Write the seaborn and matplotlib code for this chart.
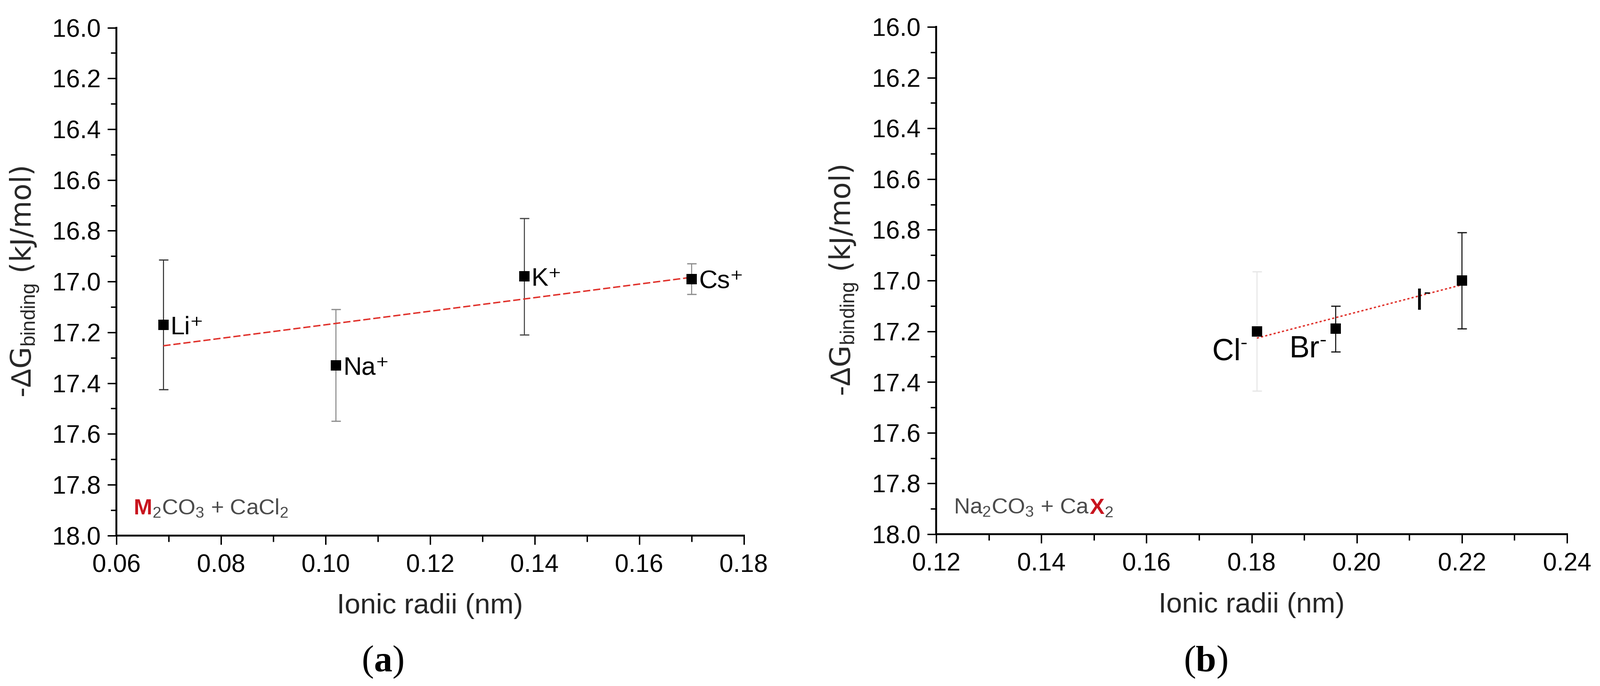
import matplotlib
matplotlib.use('Agg')
import matplotlib.pyplot as plt
import seaborn as sns
from matplotlib.ticker import MultipleLocator, FormatStrFormatter

# (a) M2CO3 + CaCl2, varying cation
cation_radius = [0.069, 0.102, 0.138, 0.170]
cation_dg = [17.17, 17.33, 16.98, 16.99]
cation_err = [0.255, 0.22, 0.23, 0.06]
cation_labels = ['Li⁺', 'Na⁺', 'K⁺', 'Cs⁺']
cation_ecolor = ['#333333', '#8a8a8a', '#444444', '#8a8a8a']

# (b) Na2CO3 + CaX2, varying anion
anion_radius = [0.181, 0.196, 0.220]
anion_dg = [17.20, 17.19, 17.00]
anion_err = [0.235, 0.09, 0.19]
anion_labels = [r'Cl$^{\text{-}}$', r'Br$^{\text{-}}$', r'I$^{\text{-}}$']
anion_ecolor = ['#e6e6e6', '#111111', '#111111']

xlim_a = (0.06, 0.18)
xlim_b = (0.12, 0.24)
ylim = (18.0, 16.0)

sns.set_theme(style='ticks')
plt.rcParams['font.family'] = ['Liberation Sans', 'DejaVu Sans']
plt.rcParams['mathtext.fontset'] = 'custom'
plt.rcParams['mathtext.rm'] = 'Liberation Sans'
plt.rcParams['mathtext.it'] = 'Liberation Sans:italic'
plt.rcParams['mathtext.bf'] = 'Liberation Sans:bold'
plt.rcParams['text.color'] = 'black'
plt.rcParams['axes.edgecolor'] = 'black'
plt.rcParams['xtick.color'] = 'black'
plt.rcParams['ytick.color'] = 'black'

RED = '#c8141e'
GREY = '#4a4a4a'
FIT = '#e0302a'

fig = plt.figure(figsize=(33.96, 14.55), dpi=100)
ax1 = fig.add_axes([0.0727, 0.2195, 0.3922, 0.7402])
ax2 = fig.add_axes([0.5851, 0.2213, 0.3943, 0.7395])
renderer = fig.canvas.get_renderer()


def rich_text(ax, xy, parts, size, xycoords, ha='left', family=None):
    # pieces of text with their own colour / weight, laid end to end
    texts, widths = [], []
    for s, color, weight in parts:
        kw = {} if family is None else {'family': family}
        t = ax.annotate(s, xy=xy, xycoords=xycoords, xytext=(0, 0),
                        textcoords='offset pixels', color=color,
                        fontweight=weight, fontsize=size,
                        va='baseline', ha='left', **kw)
        texts.append(t)
        widths.append(t.get_window_extent(renderer).width)
    start = -sum(widths) / 2 if ha == 'center' else 0
    for t, w in zip(texts, widths):
        t.xyann = (start, 0)
        start += w


def draw_panel(ax, xs, ys, errs, ecolors, capcolors, ls):
    for x, y, e, c, cc in zip(xs, ys, errs, ecolors, capcolors):
        eb = ax.errorbar(x, y, yerr=e, fmt='none', ecolor=c, elinewidth=1.6,
                         capsize=7.5, capthick=1.8, zorder=2)
        for cap in eb[1]:
            cap.set_color(cc)
    sns.regplot(x=xs, y=ys, scatter=False, ci=None, truncate=True, color=FIT,
                line_kws=dict(lw=2.2, ls=ls, zorder=3), ax=ax)
    sns.scatterplot(x=xs, y=ys, marker='s', s=250, color='black',
                    edgecolor='black', linewidth=0, zorder=4, legend=False, ax=ax)


def style_axes(ax, xlim):
    ax.set_xlim(xlim)
    ax.set_ylim(ylim)
    ax.xaxis.set_major_locator(MultipleLocator(0.02))
    ax.xaxis.set_minor_locator(MultipleLocator(0.01))
    ax.yaxis.set_major_locator(MultipleLocator(0.2))
    ax.yaxis.set_minor_locator(MultipleLocator(0.1))
    ax.xaxis.set_major_formatter(FormatStrFormatter('%.2f'))
    ax.yaxis.set_major_formatter(FormatStrFormatter('%.1f'))
    sns.despine(ax=ax)
    for sp in ['left', 'bottom']:
        ax.spines[sp].set_linewidth(2.9)
    ax.tick_params(which='major', direction='out', length=14, width=2.2, labelsize=38)
    ax.tick_params(which='minor', direction='out', length=9, width=2.2)
    ax.tick_params(axis='x', which='major', pad=14)
    ax.tick_params(axis='y', which='major', pad=10)
    ax.set_xlabel('Ionic radii (nm)', fontsize=43)
    ax.xaxis.set_label_coords(0.5, -0.114)
    ax.set_ylabel(r'-$\Delta$G$_{\mathrm{binding}}$ (kJ/mol)', fontsize=43,
                  family='DejaVu Sans')
    ax.yaxis.set_label_coords(-0.12, 0.5)


# panel (a)
draw_panel(ax1, cation_radius, cation_dg, cation_err, cation_ecolor, cation_ecolor,
           (0, (5, 2)))
style_axes(ax1, xlim_a)
for x, y, lbl in zip(cation_radius, cation_dg, cation_labels):
    ax1.annotate(lbl, xy=(x, y), xytext=(15, -20), textcoords='offset pixels',
                 ha='left', va='baseline', fontsize=39)
rich_text(ax1, (0.028, 0.041),
          [('M', RED, 'bold'), ('$_2$CO$_3$ + CaCl$_2$', GREY, 'normal')],
          34, 'axes fraction')

# panel (b)
draw_panel(ax2, anion_radius, anion_dg, anion_err, anion_ecolor,
           ['#111111'] * len(anion_radius), (0, (1.5, 1.5)))
style_axes(ax2, xlim_b)
label_offsets_b = [(-20, -61), (-20, -61), (-67, -62)]
for x, y, lbl, off in zip(anion_radius, anion_dg, anion_labels, label_offsets_b):
    ax2.annotate(lbl, xy=(x, y), xytext=off, textcoords='offset pixels',
                 ha='right', va='baseline', fontsize=46)
rich_text(ax2, (0.028, 0.040),
          [('Na$_2$CO$_3$ + Ca', GREY, 'normal'), ('X', RED, 'bold'),
           ('$_2$', GREY, 'normal')],
          34, 'axes fraction')

# panel letters
for ax, xpix, lab in [(ax1, 813, 'a'), (ax2, 2560, 'b')]:
    rich_text(ax, (xpix, 32),
              [('(', 'black', 'normal'), (lab, 'black', 'bold'), (')', 'black', 'normal')],
              56, 'figure pixels', ha='center', family='Liberation Serif')

fig.savefig('out.png', dpi=100)
